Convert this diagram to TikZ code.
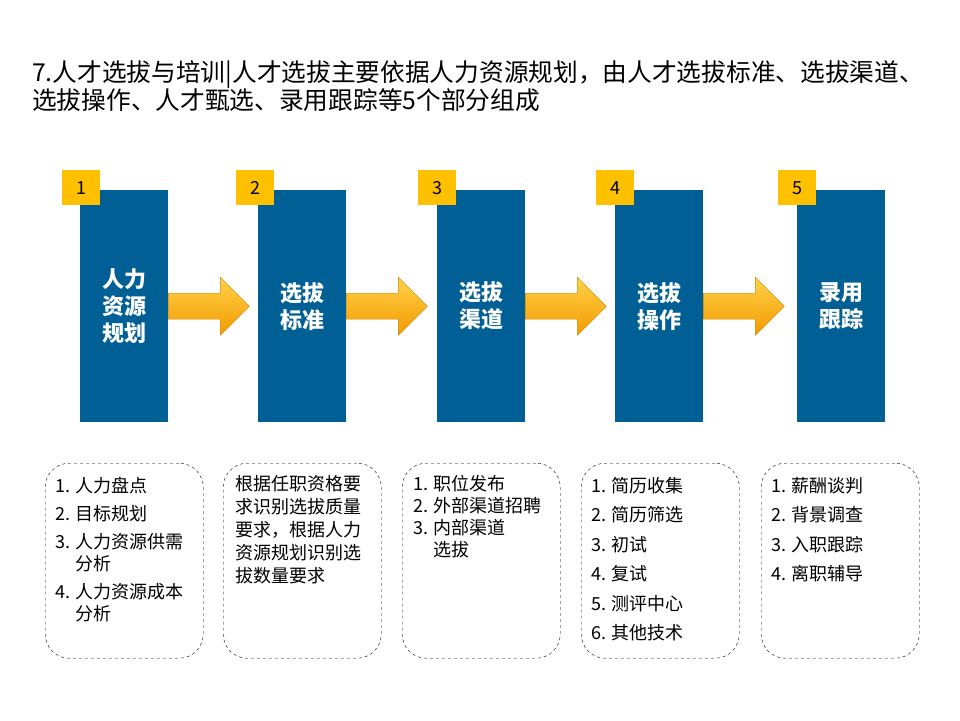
\documentclass[tikz,border=0pt]{standalone}
\usepackage{fontspec}
\setmainfont{Noto Sans CJK SC}
\definecolor{stepblue}{HTML}{005F94}
\definecolor{tagyellow}{HTML}{FFC000}
\definecolor{arrowdark}{HTML}{F29A00}
\definecolor{arrowlight}{HTML}{FFD24A}
\newcommand{\flowarrow}[1]{\draw[flow] (#1.east) ++(0,-13) -- ++(52,0) -- ++(0,-16) -- ++(29,29) -- ++(-29,29) -- ++(0,-16) -- ++(-52,0) -- cycle;}
\begin{document}
\begin{tikzpicture}[x=1pt, y=-1pt,
  stage/.style = {fill=stepblue, minimum width=88pt, minimum height=232pt, inner sep=0pt,
    text=white, font=\fontsize{22}{27}\selectfont\bfseries, align=center, anchor=north west},
  tag/.style = {fill=tagyellow, minimum width=38pt, minimum height=35pt, inner sep=0pt,
    font=\fontsize{18}{20}\selectfont, anchor=north west},
  flow/.style = {draw=arrowdark!85!black, thin, top color=arrowlight, bottom color=arrowdark},
  detail/.style = {draw, dashed, thin, rounded corners=24pt, minimum width=158pt,
    minimum height=195pt, anchor=north west, inner sep=0pt},
  items/.style = {anchor=north west, align=left, font=\fontsize{18}{22}\selectfont, inner sep=0pt}]
\useasboundingbox (0,0) rectangle (960,720);
% title
\node[anchor=north west, align=left, inner sep=0pt, font=\fontsize{24.7}{28}\selectfont] (title) at (32,60)
  {7.人才选拔与培训|人才选拔主要依据人力资源规划，由人才选拔标准、选拔渠道、\\选拔操作、人才甄选、录用跟踪等5个部分组成};
% stages
\node[stage] (s1) at (80,190) {人力\\资源\\规划};
\node[stage] (s2) at (258,190) {选拔\\标准};
\node[stage] (s3) at (437,190) {选拔\\渠道};
\node[stage] (s4) at (615,190) {选拔\\操作};
\node[stage] (s5) at (797,190) {录用\\跟踪};
\node[tag] (t1) at (62,170) {1};
\node[tag] (t2) at (236,170) {2};
\node[tag] (t3) at (418,170) {3};
\node[tag] (t4) at (596,170) {4};
\node[tag] (t5) at (778,170) {5};
% arrows
\flowarrow{s1}
\flowarrow{s2}
\flowarrow{s3}
\flowarrow{s4}
% details
\node[detail] (d1) at (45,463) {};
\node[detail] (d2) at (223,463) {};
\node[detail] (d3) at (402,463) {};
\node[detail] (d4) at (581,463) {};
\node[detail] (d5) at (761,463) {};
\node[items] (l1) at (55,477) {1. 人力盘点\\[6pt]2. 目标规划\\[6pt]3. 人力资源供需\\\phantom{3. }分析\\[6pt]4. 人力资源成本\\\phantom{4. }分析};
\node[items, font=\fontsize{18}{23}\selectfont] (l2) at (235,475) {根据任职资格要\\求识别选拔质量\\要求，根据人力\\资源规划识别选\\拔数量要求};
\node[items] (l3) at (413,475) {1. 职位发布\\2. 外部渠道招聘\\3. 内部渠道\\\phantom{3. }选拔};
\node[items, font=\fontsize{18}{29.5}\selectfont] (l4) at (591,477) {1. 简历收集\\2. 简历筛选\\3. 初试\\4. 复试\\5. 测评中心\\6. 其他技术};
\node[items, font=\fontsize{18}{29.5}\selectfont] (l5) at (771,477) {1. 薪酬谈判\\2. 背景调查\\3. 入职跟踪\\4. 离职辅导};
\end{tikzpicture}
\end{document}
